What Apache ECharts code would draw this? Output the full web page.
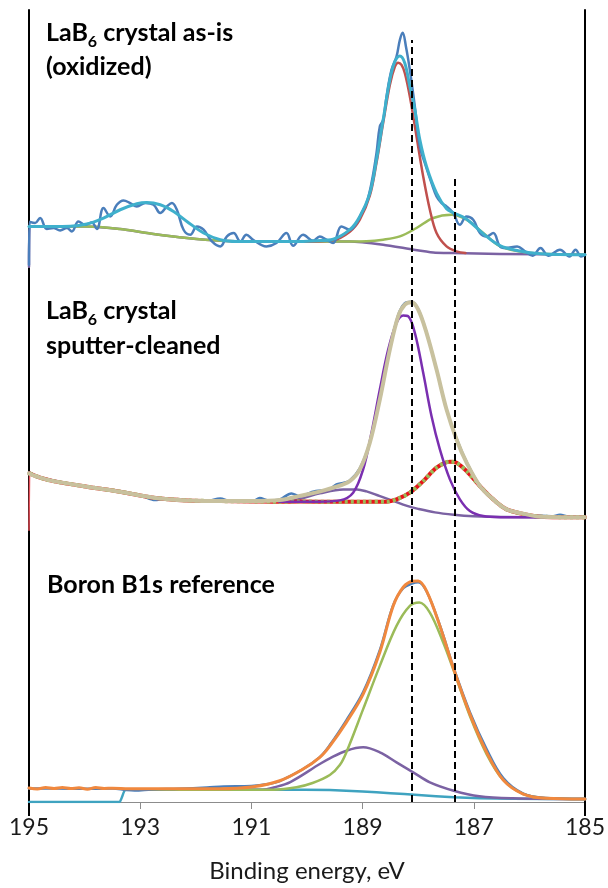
<!DOCTYPE html>
<html>
<head>
<meta charset="utf-8">
<script src="https://cdn.jsdelivr.net/npm/echarts@6/dist/echarts.min.js"></script>
<style>
  html, body { margin: 0; padding: 0; background: #fff; }
  #chart { width: 608px; height: 888px; }
</style>
</head>
<body>
<div id="chart"></div>
<script>
// B 1s spectra, binding energy (eV) vs intensity above each spectrum's own baseline.

// ---- LaB6 crystal as-is (oxidized) ----
const asIsMeasured = [
  [195.00, -10], [194.99, 33], [194.89, 31.7], [194.80, 36.7], [194.68, 25.7], [194.56, 26.7], [194.44, 24.3],
  [194.32, 26.7], [194.23, 23.3], [194.11, 33.3], [193.99, 30], [193.87, 32.3], [193.78, 25.7],
  [193.66, 46.7], [193.54, 38.3], [193.42, 50], [193.30, 54.3], [193.18, 51.7], [193.06, 48.3],
  [192.91, 51.7], [192.76, 50], [192.64, 41.7], [192.52, 48.3], [192.43, 51.7], [192.34, 45],
  [192.22, 25], [192.10, 20], [191.98, 28.3], [191.86, 25], [191.71, 13.3], [191.56, 8.3],
  [191.44, 18.3], [191.32, 21.7], [191.20, 13.3], [191.09, 20], [190.97, 15], [190.73, 8.3],
  [190.55, 11.7], [190.37, 21.7], [190.25, 9], [190.07, 20], [189.89, 14], [189.77, 18.3],
  [189.65, 15], [189.53, 11.7], [189.38, 28.3], [189.23, 25], [189.11, 31.7], [189.02, 41.7],
  [188.93, 51.7], [188.84, 71.7], [188.75, 101.7], [188.69, 128.3], [188.63, 135], [188.57, 158.3],
  [188.48, 185], [188.39, 198.3], [188.33, 215], [188.28, 222.3], [188.22, 208.3], [188.15, 185],
  [188.06, 148.3], [187.97, 108.3], [187.88, 91.7], [187.76, 71.7], [187.67, 58.3], [187.58, 51.7],
  [187.49, 48.3], [187.37, 41.7], [187.25, 30], [187.13, 38.3], [187.01, 35], [186.89, 21.7],
  [186.77, 18.3], [186.65, 21.7], [186.53, 8.3], [186.43, 6.7], [186.22, 8.3], [186.08, 3.3],
  [185.94, -1], [185.80, 6.7], [185.66, -1], [185.45, 5], [185.28, -1.7], [185.17, 5],
  [185.07, -1.7], [185.00, 0]
];
const asIsEnvelope = [
  [195.00, 28.3], [194.60, 28.3], [194.26, 28.5], [193.96, 30.7], [193.66, 36.7], [193.36, 45],
  [193.06, 51], [192.88, 52.3], [192.64, 50], [192.40, 43.3], [192.16, 33.3], [191.86, 21.7],
  [191.56, 15], [191.26, 13.3], [190.50, 13.3], [190.13, 13.3], [189.83, 14], [189.53, 15.5],
  [189.23, 25], [189.05, 38.3], [188.87, 61.7], [188.75, 95], [188.63, 135], [188.51, 175],
  [188.42, 193.3], [188.33, 199], [188.24, 191.7], [188.15, 168.3], [188.06, 145], [187.97, 115],
  [187.85, 88.3], [187.67, 61.7], [187.49, 46], [187.37, 42], [187.20, 38], [187.07, 33],
  [186.83, 21], [186.53, 9], [186.20, 4], [185.80, 1], [185.00, 0]
];
const asIsBoride = [
  [190.13, 13.3], [189.53, 14.5], [189.23, 23], [189.05, 35], [188.87, 59], [188.75, 92],
  [188.63, 132], [188.51, 170], [188.42, 188], [188.36, 192.3], [188.30, 190], [188.24, 181.7],
  [188.15, 158.3], [188.03, 118.3], [187.91, 78.3], [187.79, 45], [187.67, 21.7], [187.49, 8.3],
  [187.31, 3.3], [187.15, 1.6]
];
const asIsOxide = [
  [195.00, 28.3], [194.26, 28.3], [193.96, 28.3], [193.36, 25.7], [192.76, 20.7], [192.16, 16.7],
  [191.56, 14], [190.97, 13.3], [190.13, 13.3], [189.23, 13.3], [188.93, 13.5], [188.63, 15],
  [188.33, 18.3], [188.03, 26.7], [187.73, 36.7], [187.40, 40], [187.13, 35], [186.83, 21.7],
  [186.53, 8.5], [186.20, 3.5], [185.80, 1], [185.00, 0]
];
const asIsBackground = [
  [195.00, -12], [194.99, 28.3], [194.26, 28.3], [193.96, 28.3], [193.36, 25.7], [192.76, 20.7],
  [192.16, 16.7], [191.56, 14], [190.97, 13.3], [190.13, 13.3], [189.23, 13.3], [188.63, 10],
  [188.08, 5], [187.73, 2.3], [187.37, 1.7], [186.53, 0.7], [185.00, 0]
];

// ---- LaB6 crystal sputter-cleaned ----
const cleanMeasured = [
  [195.00, 45], [194.80, 40], [194.56, 37], [194.20, 33], [193.96, 31], [193.60, 27.5], [193.36, 26],
  [193.00, 22], [192.80, 18], [192.76, 17.5], [192.50, 18.5], [192.16, 17], [191.80, 16.5],
  [191.56, 19], [191.40, 16.5], [190.97, 16.3], [190.85, 19.5], [190.70, 17], [190.49, 18],
  [190.28, 24], [190.13, 21], [189.93, 25], [189.84, 26.5], [189.60, 28], [189.47, 33],
  [189.35, 34.5], [189.23, 37], [189.05, 49], [188.87, 75], [188.69, 119], [188.51, 169],
  [188.36, 202.5], [188.24, 214.5], [188.12, 216], [188.00, 208.5], [187.85, 185], [187.67, 148],
  [187.49, 108], [187.31, 79], [187.13, 55.5], [186.89, 32], [186.65, 18.5], [186.41, 8],
  [186.05, 3], [185.81, 1.5], [185.60, 1], [185.45, 2.5], [185.30, 1], [185.00, 0.5]
];
const cleanEnvelope = [
  [195.00, 44], [194.80, 39.7], [194.56, 36.3], [193.96, 30.7], [193.36, 25.7], [192.76, 19.7],
  [192.16, 17], [191.56, 16.3], [190.97, 16.3], [190.49, 17.3], [190.13, 21.5], [189.83, 25],
  [189.53, 29.7], [189.23, 36.3], [189.05, 48], [188.87, 74.7], [188.69, 118], [188.51, 168],
  [188.36, 201.3], [188.24, 213], [188.12, 215.3], [188.00, 208], [187.85, 184.7], [187.67, 148],
  [187.49, 108], [187.31, 78], [187.13, 54.7], [186.89, 31.3], [186.65, 18], [186.41, 8],
  [186.05, 3], [185.81, 0.7], [185.00, 0]
];
const cleanBoride = [
  [190.50, 15.7], [189.80, 15.7], [189.41, 17], [189.17, 24.7], [188.99, 48], [188.84, 84.7],
  [188.69, 128], [188.54, 168], [188.39, 194.7], [188.27, 202], [188.18, 201.3], [188.06, 184.7],
  [187.91, 144.7], [187.76, 101.3], [187.61, 68], [187.43, 38], [187.25, 18], [187.07, 6.3],
  [186.83, 1.3], [186.50, 0.2], [185.00, 0]
];
const cleanShoulder = [
  [190.80, 15.7], [190.40, 16.5], [190.13, 18.5], [189.77, 24], [189.35, 28], [189.10, 28],
  [188.93, 26], [188.70, 21.5], [188.45, 16.5], [188.20, 11.5], [188.00, 8.5], [187.70, 5],
  [187.36, 2.7], [187.00, 1.2], [186.50, 0.3], [185.00, 0]
];
const cleanLowEnergy = [
  [194.99, 44], [194.80, 39.7], [194.56, 36.3], [193.96, 30.7], [193.36, 25.7],
  [192.76, 19.7], [192.16, 17], [191.56, 16.3], [190.97, 16], [190.50, 15.7], [190.13, 15.8],
  [189.50, 15.7], [188.93, 15.7], [188.57, 15.7], [188.39, 18], [188.15, 24.7], [187.91, 36.3],
  [187.67, 49.7], [187.43, 55.7], [187.31, 54.7], [187.13, 46.3], [186.89, 31.3], [186.65, 18],
  [186.41, 8], [186.05, 2.7], [185.81, 0.7], [185.00, 0]
];
// first channel of the low-energy component, which drops below the baseline
const cleanLowEnergyEdge = [[195.00, -13], [194.99, 44]];

// ---- Boron B1s reference ----
const boronMeasured = [
  [195.00, 13.5], [194.50, 13.5], [194.00, 13.2], [193.50, 13.5], [193.25, 12], [193.10, 11.5],
  [192.80, 12.5], [192.30, 13.3], [191.80, 14.5], [191.50, 15.5], [191.00, 16], [190.70, 18],
  [190.49, 21], [190.07, 33], [189.77, 45], [189.59, 57], [189.29, 82], [188.99, 110],
  [188.69, 152], [188.45, 197], [188.27, 214], [188.10, 219], [188.00, 220], [187.85, 211],
  [187.61, 177], [187.36, 134], [187.07, 90], [186.77, 53], [186.47, 24], [186.11, 8.5],
  [185.69, 4], [185.04, 3], [185.00, 3]
];
const boronEnvelope = [
  [195.00, 14], [194.85, 13], [194.70, 14.5], [194.55, 13.5], [194.40, 14.5], [194.25, 13.5],
  [194.10, 14.2], [193.95, 12.8], [193.80, 14.5], [193.65, 13.5], [193.50, 13.8], [193.20, 13.3],
  [192.50, 13.3], [191.56, 13.3], [190.97, 15.3], [190.49, 21.3], [190.07, 33], [189.77, 44.7],
  [189.59, 56], [189.29, 80], [188.99, 108], [188.69, 150], [188.45, 196.3], [188.27, 215],
  [188.10, 221], [188.00, 221.3], [187.85, 211.3], [187.61, 176.3], [187.36, 133], [187.07, 88],
  [186.77, 50], [186.47, 22], [186.11, 8], [185.69, 3.7], [185.04, 3], [185.00, 3]
];
const boronMain = [
  [193.27, 12.3], [190.60, 12.3], [190.19, 14.7], [189.90, 19], [189.59, 27], [189.41, 37],
  [189.29, 50], [188.99, 93], [188.69, 136.3], [188.39, 176.3], [188.15, 196.3], [187.98, 199.7],
  [187.79, 189.7], [187.55, 159.7], [187.36, 131.3], [187.07, 86], [186.77, 48], [186.47, 22],
  [186.11, 8], [185.69, 3.7], [185.00, 3]
];
const boronHigh = [
  [193.27, 12.3], [190.80, 12.3], [190.60, 14.5], [190.30, 20], [189.77, 38], [189.59, 43.7],
  [189.29, 51.3], [188.99, 54.7], [188.69, 49.7], [188.39, 39.7], [188.09, 29.7], [187.79, 19.7],
  [187.36, 11.3], [186.90, 5.7], [186.30, 3.7], [185.00, 3]
];
const boronBackground = [
  [195.00, 0], [193.37, 0], [193.27, 12.3], [192.00, 12.3], [190.50, 12.3], [189.59, 12],
  [189.00, 10.5], [188.50, 8.8], [188.00, 7], [187.36, 4.7], [186.90, 3.7], [186.30, 3.2],
  [185.00, 3]
];

// Reference binding energies marked with dashed lines, and how far up each line runs
const refEnergies = [188.11, 187.35];
const refTops = [763, 625];

// Axis ticks
const energyMin = 185, energyMax = 195, energyStep = 2;

// Vertical stacking of the three spectra
const offsetAsIs = 548, offsetClean = 285, offsetBoron = 0;
const intensityMax = 793;

const FONT = 'Lato, "Open Sans", sans-serif';

function shift(points, offset) {
  return points.map(p => [p[0], p[1] + offset]);
}
function curve(name, points, offset, color, width, extra) {
  return Object.assign({
    name: name,
    type: 'line',
    data: shift(points, offset),
    showSymbol: false,
    symbol: 'none',
    smooth: 0.35,
    silent: true,
    lineStyle: { color: color, width: width, cap: 'round', join: 'round' }
  }, extra || {});
}

const series = [
  // as-is
  curve('asIs-bg', asIsBackground, offsetAsIs, '#7b62a3', 2.5, { smooth: 0.2 }),
  curve('asIs-oxide', asIsOxide, offsetAsIs, '#9bbb59', 2.5),
  curve('asIs-boride', asIsBoride, offsetAsIs, '#c0504d', 2.5),
  curve('asIs-data', asIsMeasured, offsetAsIs, '#4a7ebb', 2.5, { smooth: 0.4 }),
  curve('asIs-fit', asIsEnvelope, offsetAsIs, '#3fb0cc', 3),
  // sputter-cleaned
  curve('clean-data', cleanMeasured, offsetClean, '#4a7ebb', 2.5),
  curve('clean-shoulder', cleanShoulder, offsetClean, '#7b62a3', 2.5),
  curve('clean-edge', cleanLowEnergyEdge, offsetClean, '#e8505a', 1.5, { smooth: false }),
  curve('clean-low', cleanLowEnergy, offsetClean, '#e8141a', 4, { smooth: 0.3 }),
  curve('clean-low-dash', cleanLowEnergy, offsetClean, '#9bbb59', 4,
        { smooth: 0.3, lineStyle: { color: '#9bbb59', width: 4, type: [3, 3] } }),
  curve('clean-boride', cleanBoride, offsetClean, '#7a2fb0', 2.5),
  curve('clean-fit', cleanEnvelope, offsetClean, '#c8c19e', 4),
  // boron reference
  curve('boron-bg', boronBackground, offsetBoron, '#3fa3c0', 2.5, { smooth: 0.1 }),
  curve('boron-high', boronHigh, offsetBoron, '#7b62a3', 2.5),
  curve('boron-main', boronMain, offsetBoron, '#9bbb59', 2.5),
  curve('boron-data', boronMeasured, offsetBoron, '#4a7ebb', 2.5),
  curve('boron-fit', boronEnvelope, offsetBoron, '#f0883e', 3),
  // dashed reference lines
  {
    name: 'refs',
    type: 'line',
    data: [],
    silent: true,
    markLine: {
      silent: true,
      symbol: ['none', 'none'],
      label: { show: false },
      lineStyle: { color: '#000', width: 2, type: [7, 4] },
      data: refEnergies.map((e, i) => [{ coord: [e, 0] }, { coord: [e, refTops[i]] }])
    }
  }
];

const labelRich = {
  a: { fontFamily: FONT, fontWeight: 'bold', fontSize: 25, lineHeight: 34, fill: '#000' },
  s: { fontFamily: FONT, fontWeight: 'bold', fontSize: 16, lineHeight: 22, verticalAlign: 'bottom', fill: '#000' }
};
const labelRich2 = {
  a: { fontFamily: FONT, fontWeight: 'bold', fontSize: 25, lineHeight: 35, fill: '#000' },
  s: { fontFamily: FONT, fontWeight: 'bold', fontSize: 16, lineHeight: 23, verticalAlign: 'bottom', fill: '#000' }
};

const chart = echarts.init(document.getElementById('chart'), null, { renderer: 'canvas' });
chart.setOption({
  animation: false,
  backgroundColor: '#fff',
  grid: { left: 29, right: 23, top: 10, bottom: 85 },
  xAxis: [
    {
      type: 'value', min: energyMin, max: energyMax, interval: energyStep, inverse: true,
      position: 'bottom',
      name: 'Binding energy, eV', nameLocation: 'middle', nameGap: 57,
      nameTextStyle: { fontFamily: FONT, fontSize: 24, color: '#1a1a1a' },
      axisLine: { onZero: false, lineStyle: { color: '#8c8c8c', width: 1 } },
      axisTick: { length: 7, lineStyle: { color: '#8c8c8c', width: 1 } },
      axisLabel: { fontFamily: FONT, fontSize: 23, color: '#1a1a1a', margin: 14 },
      splitLine: { show: false }
    },
    {
      type: 'value', min: energyMin, max: energyMax, interval: energyMax - energyMin, inverse: true,
      position: 'bottom',
      axisLine: { show: false },
      axisTick: { length: 14, lineStyle: { color: '#000', width: 2 } },
      axisLabel: { show: false },
      splitLine: { show: false }
    }
  ],
  yAxis: [
    {
      type: 'value', min: 0, max: intensityMax, position: 'left',
      axisLine: { show: true, onZero: false, lineStyle: { color: '#000', width: 2 } },
      axisTick: { show: false }, axisLabel: { show: false }, splitLine: { show: false }
    },
    {
      type: 'value', min: 0, max: intensityMax, position: 'right',
      axisLine: { show: true, onZero: false, lineStyle: { color: '#000', width: 2 } },
      axisTick: { show: false }, axisLabel: { show: false }, splitLine: { show: false }
    }
  ],
  graphic: [
    {
      type: 'text', left: 46, top: 20,
      style: { text: '{a|LaB}{s|6}{a| crystal as-is}\n{a|(oxidized)}', rich: labelRich }
    },
    {
      type: 'text', left: 46, top: 298,
      style: { text: '{a|LaB}{s|6}{a| crystal}\n{a|sputter-cleaned}', rich: labelRich2 }
    },
    {
      type: 'text', left: 47, top: 572,
      style: { text: 'Boron B1s reference', fontFamily: FONT, fontWeight: 'bold', fontSize: 25, fill: '#000' }
    }
  ],
  series: series
});
</script>
</body>
</html>
